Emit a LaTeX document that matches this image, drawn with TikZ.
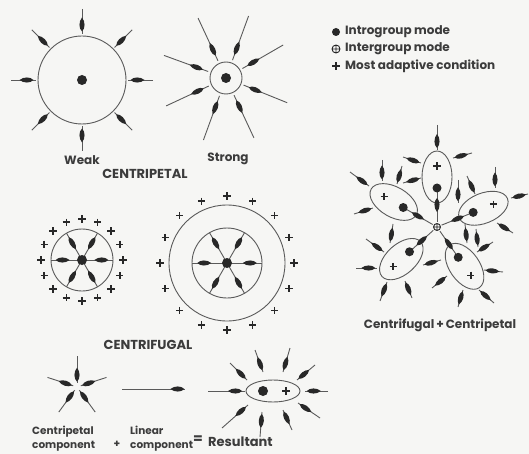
\documentclass[tikz,border=0pt]{standalone}
\usepackage{fontspec}
\setmainfont{Poppins}
\usetikzlibrary{arrows.meta,calc,decorations.markings}

\definecolor{paper}{RGB}{246,246,244}
\definecolor{inkgray}{RGB}{90,90,90}
\definecolor{inkdark}{RGB}{40,40,40}
\definecolor{textgray}{RGB}{60,60,60}

\begin{document}
\begin{tikzpicture}[
  x=1pt, y=-1pt,
  font=\fontsize{12}{14}\selectfont\bfseries,
  line/.style={draw=inkgray, line width=0.9pt},
  inarrow/.style={line, postaction={decorate},
    decoration={markings, mark=at position #1 with
      {\fill[inkdark] (0,0) .. controls (-3,3.4) and (-10,3.4) .. (-14,0)
                            .. controls (-10,-3.4) and (-3,-3.4) .. (0,0);}}},
  inarrow/.default=0.9,
  dot/.style={circle, fill=inkdark, inner sep=0pt, minimum size=10pt},
  lbl/.style={text=textgray, inner sep=1pt},
  caps/.style={lbl, font=\fontsize{13}{15}\selectfont\bfseries},
  small/.style={lbl, font=\fontsize{10.5}{14}\selectfont\bfseries},
  plusmark/.pic={\draw[inkdark, line width=1.5pt] (-3.6,0) -- (3.6,0) (0,-3.6) -- (0,3.6);},
  intermark/.pic={\draw[inkdark, line width=0.9pt] (0,0) circle[radius=#1]
      (-#1,0) -- (#1,0) (0,-#1) -- (0,#1);},
]
\fill[paper] (0,0) rectangle (529,454);
\useasboundingbox (0,0) rectangle (529,454);

% centripetal, weak and strong
\coordinate (W) at (82,80);
\coordinate (S) at (226,78);
\draw[line] (W) circle[radius=44];
\foreach \a in {0,45,...,315}
  \draw[inarrow] ($(W)+(\a:71)$) -- ($(W)+(\a:46)$);
\node[dot] (wdot) at (W) {};
\draw[line] (S) circle[radius=16];
\foreach \a in {-115,-70,-30,22,65,110,155,-160}
  \draw[inarrow=0.88] ($(S)+(\a:66)$) -- ($(S)+(\a:19)$);
\node[dot] (sdot) at (S) {};
\node[lbl] (weak) at (82,160) {Weak};
\node[lbl] (strong) at (228,159) {Strong};
\node[caps] (cpetal) at (145,174) {CENTRIPETAL};

% legend
\node[dot, minimum size=8pt] (lgdot) at (336,32) {};
\node[lbl, anchor=west] (lgintro) at (344,32) {Introgroup mode};
\pic at (336,49) {intermark=4};
\node[lbl, anchor=west] (lginter) at (344,49) {Intergroup mode};
\pic at (336,66) {plusmark};
\node[lbl, anchor=west] (lgplus) at (344,66) {Most adaptive condition};

% centrifugal
\coordinate (F1) at (82,260);
\coordinate (F2) at (227,263);
\draw[line] (F1) circle[radius=31];
\foreach \a in {0,60,...,300}
  \draw[inarrow=0.85] (F1) -- ($(F1)+(\a:31)$);
\foreach \a in {0,22.5,...,337.5}
  \pic at ($(F1)+(\a:41)$) {plusmark};
\node[dot] (f1dot) at (F1) {};
\draw[line] (F2) circle[radius=35] (F2) circle[radius=58];
\foreach \a in {0,60,...,300}
  \draw[inarrow=0.85] (F2) -- ($(F2)+(\a:35)$);
\foreach \a in {0,22.5,...,337.5}
  \pic at ($(F2)+(\a:67)$) {plusmark};
\node[dot] (f2dot) at (F2) {};
\node[caps] (cfugal) at (148,345) {CENTRIFUGAL};

% centrifugal + centripetal
\coordinate (O) at (437,227);
\foreach \a/\d [evaluate=\d as \rin using \d-11, evaluate=\d as \rout using \d+11,
    evaluate=\d as \rend using \d-15] in {90/50,150/50,22/50,222/48,305/48} {
  \begin{scope}[shift={($(O)+(-\a:\d)$)}, rotate=\a]
    \draw[line] (0,0) ellipse[x radius=26, y radius=15];
  \end{scope}
  \draw[inarrow=0.8] ($(O)+(-\a:5)$) -- ($(O)+(-\a:\rend)$);
  \node[dot, minimum size=9pt] at ($(O)+(-\a:\rin)$) {};
  \pic at ($(O)+(-\a:\rout)$) {plusmark};
}
\foreach \ax/\ay/\bx/\by in {
    437/125/437/150, 472/153/453/158, 403/157/421/163, 403/183/421/178,
    382/160/382/181, 402/166/397/184, 350/172/369/186, 354/214/373/208,
    458/180/458/203, 467/176/475/194, 495/167/495/188, 528/194/511/198,
    393/224/390/243, 366/239/384/252, 356/268/377/268, 380/301/387/282,
    412/298/405/281, 441/260/423/265, 432/288/447/276, 458/307/463/290,
    494/303/479/290, 503/272/484/270, 493/242/477/252, 465/224/467/243,
    476/229/478/247, 513/233/497/223}
  \draw[inarrow=0.92] (\ax,\ay) -- (\bx,\by);
\pic[fill=paper] at (O) {intermark=3.5};
\node[lbl] (cfcp) at (440,325) {Centrifugal\,+\,Centripetal};

% components and resultant
\coordinate (C) at (77,387);
\coordinate (R) at (273,391);
\foreach \a in {-90,-18,54,126,-162}
  \draw[inarrow=0.95] ($(C)+(\a:31)$) -- ($(C)+(\a:4)$);
\coordinate (lin1) at (122,389);
\coordinate (lin2) at (185,389);
\draw[inarrow=0.99] (lin1) -- (lin2);
\draw[line] (R) ellipse[x radius=27, y radius=11];
\node[dot] (rdot) at (263,391) {};
\pic at (286,391) {plusmark};
\foreach \ax/\ay/\bx/\by in {
    208/391/245/391, 328/391/305/391, 230/363/247/380, 255/350/263/372,
    290/348/283/372, 315/365/297/380, 320/418/298/403, 292/430/283/410,
    260/437/262/412, 222/428/248/405}
  \draw[inarrow=0.92] (\ax,\ay) -- (\bx,\by);
\node[small, anchor=north west, align=left] (cpcomp) at (31,425) {Centripetal\\component};
\node[small] (plus) at (117,444) {+};
\node[small, anchor=north west, align=left] (lincomp) at (129,425) {Linear\\component};
\node[lbl, font=\fontsize{14}{15}\selectfont\bfseries] (eq) at (198,440) {=};
\node[lbl, anchor=west, font=\fontsize{13}{15}\selectfont\bfseries] (res) at (207,442) {Resultant};
\end{tikzpicture}
\end{document}
